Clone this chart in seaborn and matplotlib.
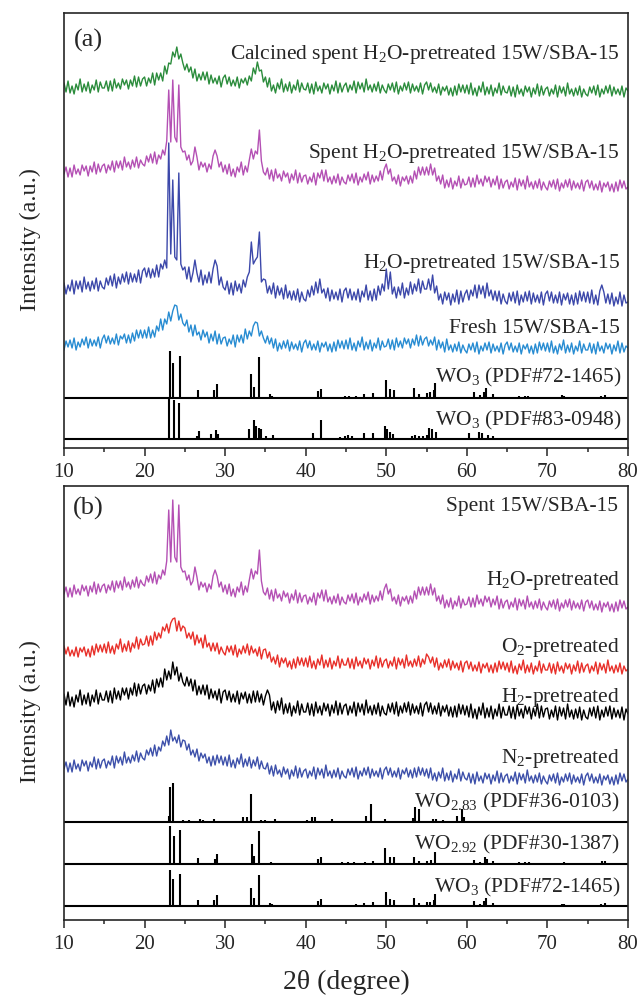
import numpy as np
import matplotlib
matplotlib.use("Agg")
import matplotlib.pyplot as plt
import seaborn as sns

# 2theta grid of the digitised patterns (0.25 deg steps, 10-80 deg)
two_theta = np.linspace(10, 80, 281)

# ---- panel (a) patterns, intensity in a.u. ----
calcined_spent = [
    10, 1, 12, 0, 7, -1, 9, 3, 14, 1, 9, 2, 11, 0, 8, 3, 13, 1, 11, 5,
    5, 12, 2, 12, 2, 14, 5, 10, 4, 14, 8, 13, 4, 13, 7, 17, 6, 16, 7, 14,
    16, 7, 15, 10, 20, 8, 20, 13, 20, 12, 27, 19, 30, 29, 41, 36, 46, 34, 39, 30,
    23, 29, 21, 26, 15, 24, 12, 19, 13, 21, 13, 21, 9, 18, 10, 15, 9, 17, 6, 15,
    18, 9, 16, 7, 13, 7, 16, 5, 14, 10, 15, 8, 17, 12, 25, 19, 31, 22, 23, 11,
    16, 6, 15, 2, 8, 0, 10, 4, 14, 1, 9, 2, 11, 0, 8, 3, 13, 1, 10, 4,
    3, 10, 0, 9, -1, 11, 2, 7, 0, 10, 4, 9, -1, 8, 2, 12, 0, 10, 1, 7,
    10, 1, 8, 3, 12, 0, 11, 4, 10, 1, 14, 3, 8, 1, 9, 2, 11, 0, 8, 3,
    0, 9, 3, 10, 1, 11, -1, 7, 2, 10, 3, 11, 0, 9, 2, 7, 1, 10, -1, 8,
    11, 3, 10, 1, 6, 0, 9, -2, 6, 2, 7, -2, 5, -3, 7, -2, 9, 1, 8, 0,
    8, -1, 10, -2, 5, -3, 7, 1, 11, -2, 6, -1, 8, -3, 5, 0, 10, -2, 7, 1,
    0, 7, -3, 6, -4, 8, -1, 4, -3, 7, 1, 6, -4, 5, -1, 9, -3, 7, -2, 4,
    6, -3, 4, -1, 8, -4, 7, 0, 6, -3, 10, -1, 4, -3, 5, -2, 7, -4, 4, -1,
    -3, 6, 0, 7, -2, 8, -4, 4, -1, 7, 0, 8, -3, 6, -1, 4, -2, 7, -4, 5,
    2,
]

spent_h2o = [
    13, 20, 10, 19, 10, 22, 13, 18, 12, 22, 16, 21, 11, 21, 15, 25, 13, 23, 15, 21,
    23, 14, 22, 17, 26, 15, 26, 19, 26, 17, 30, 20, 25, 18, 27, 20, 30, 19, 27, 23,
    21, 31, 25, 33, 24, 35, 23, 32, 28, 37, 32, 46, 97, 45, 107, 50, 45, 102, 40, 35,
    36, 27, 32, 22, 26, 40, 30, 17, 25, 20, 24, 15, 23, 18, 31, 37, 31, 20, 25, 15,
    22, 13, 23, 11, 18, 10, 20, 15, 25, 12, 21, 15, 27, 38, 28, 36, 33, 57, 26, 15,
    12, 19, 8, 17, 6, 18, 9, 13, 6, 16, 10, 14, 4, 13, 7, 17, 4, 14, 5, 11,
    12, 3, 10, 5, 14, 2, 14, 9, 17, 6, 17, 5, 10, 3, 11, 4, 13, 2, 10, 5,
    3, 12, 6, 13, 4, 14, 2, 10, 5, 13, 7, 15, 3, 12, 5, 11, 6, 16, 7, 18,
    23, 13, 18, 6, 10, 3, 12, 1, 10, 6, 11, 3, 11, 4, 16, 8, 20, 12, 20, 12,
    20, 12, 23, 12, 19, 6, 11, 3, 12, -1, 7, 0, 9, -2, 6, 1, 11, -1, 8, 2,
    3, 10, 0, 9, 0, 12, 3, 8, 1, 11, 5, 10, 0, 8, 2, 11, -2, 8, -1, 5,
    7, -2, 5, 0, 9, -3, 8, 1, 7, -2, 11, 0, 5, -2, 6, -1, 8, -3, 5, 0,
    -3, 6, 0, 7, -2, 8, -4, 4, -1, 7, 0, 8, -3, 6, -1, 4, -2, 7, -4, 5,
    7, -1, 6, -3, 3, -3, 6, -5, 4, 0, 5, -4, 3, -5, 5, -4, 7, -1, 6, -2,
    0,
]

h2o_pretreated = [
    19, 8, 17, 11, 22, 8, 21, 13, 21, 10, 25, 13, 20, 11, 21, 13, 24, 11, 21, 15,
    13, 24, 17, 26, 16, 28, 14, 25, 18, 28, 20, 30, 18, 29, 20, 28, 20, 32, 19, 31,
    34, 25, 34, 24, 33, 25, 37, 25, 38, 33, 42, 34, 159, 48, 122, 45, 42, 129, 38, 32,
    35, 23, 35, 20, 29, 42, 29, 20, 32, 17, 27, 19, 30, 19, 33, 42, 36, 17, 25, 15,
    12, 21, 8, 19, 7, 21, 11, 18, 9, 22, 15, 25, 30, 60, 38, 42, 45, 70, 20, 23,
    22, 9, 16, 8, 19, 4, 16, 7, 14, 3, 17, 4, 11, 2, 11, 2, 13, 0, 10, 3,
    1, 12, 5, 16, 7, 20, 9, 23, 9, 13, 4, 14, 1, 12, 3, 10, 2, 13, 0, 11,
    14, 4, 13, 2, 10, 2, 13, 0, 11, 5, 17, 2, 11, 1, 13, 2, 16, 7, 18, 11,
    33, 13, 30, 8, 15, 4, 15, 7, 19, 4, 14, 7, 20, 8, 18, 11, 23, 9, 21, 13,
    13, 23, 12, 27, 9, 16, 2, 8, -2, 10, 2, 9, -3, 8, 0, 12, -2, 11, 0, 8,
    12, 2, 12, 6, 17, 4, 17, 8, 16, 4, 19, 6, 12, 2, 11, 1, 11, -2, 8, 1,
    -2, 9, 1, 10, -1, 11, -3, 7, 0, 10, 1, 11, -2, 9, 0, 7, -1, 10, -3, 8,
    11, 1, 10, -1, 7, -1, 10, -3, 8, 2, 9, -2, 7, -3, 9, -2, 11, 1, 10, 0,
    10, -1, 12, -2, 7, -3, 11, 17, 10, -1, 8, -2, 9, -4, 5, -2, 10, -4, 7, -1,
    0,
]

fresh = [
    0, 9, 3, 10, 2, 12, 0, 8, 3, 11, 5, 13, 2, 11, 4, 10, 4, 13, 2, 11,
    15, 7, 14, 6, 12, 6, 16, 5, 14, 11, 16, 7, 15, 7, 17, 9, 20, 12, 20, 12,
    20, 12, 23, 12, 20, 13, 24, 19, 31, 20, 31, 26, 38, 29, 39, 45, 44, 30, 36, 27,
    24, 30, 18, 25, 14, 25, 15, 18, 10, 20, 13, 18, 7, 16, 9, 19, 6, 16, 6, 12,
    13, 4, 11, 6, 15, 3, 15, 8, 15, 7, 21, 11, 19, 14, 24, 28, 27, 14, 19, 12,
    7, 14, 6, 12, 2, 11, -1, 7, 1, 9, 2, 10, -1, 8, 1, 6, 0, 9, -2, 7,
    10, 2, 9, 0, 6, 0, 9, -2, 7, 3, 8, -1, 6, -2, 8, -1, 10, 2, 9, 1,
    10, 1, 12, 0, 7, -1, 9, 3, 13, 0, 8, 1, 10, -1, 7, 2, 12, 0, 9, 3,
    4, 11, 1, 10, 0, 12, 3, 9, 2, 12, 6, 11, 2, 11, 5, 15, 4, 14, 5, 11,
    13, 4, 10, 5, 13, 0, 10, 2, 8, -2, 11, 0, 5, -2, 6, -1, 8, -3, 5, 0,
    -3, 6, 0, 7, -2, 8, -4, 4, -1, 7, 0, 8, -3, 6, -1, 4, -2, 7, -4, 5,
    8, 0, 7, -2, 4, -2, 7, -4, 5, 1, 6, -3, 4, -4, 6, -3, 8, 0, 7, -1,
    7, -2, 9, -3, 4, -4, 6, 0, 10, -3, 5, -2, 7, -4, 4, -1, 9, -3, 6, 0,
    0, 7, -3, 6, -4, 8, -1, 4, -3, 7, 1, 6, -4, 5, -1, 9, -3, 7, -2, 4,
    2,
]

# ---- panel (b) patterns ----
o2_pretreated = [
    24, 16, 23, 14, 20, 14, 23, 13, 22, 18, 23, 14, 21, 13, 24, 15, 26, 18, 25, 18,
    26, 17, 28, 17, 24, 16, 26, 21, 31, 18, 26, 19, 29, 18, 27, 22, 33, 21, 31, 25,
    26, 34, 24, 34, 25, 38, 30, 37, 32, 43, 39, 46, 37, 47, 51, 52, 39, 49, 39, 44,
    42, 32, 37, 31, 38, 25, 35, 27, 32, 22, 35, 23, 27, 19, 27, 19, 27, 16, 23, 18,
    15, 24, 18, 24, 15, 25, 13, 21, 16, 24, 17, 26, 15, 24, 17, 21, 14, 23, 11, 20,
    21, 12, 18, 8, 13, 6, 15, 3, 12, 7, 12, 3, 9, 1, 11, 2, 13, 5, 12, 4,
    12, 3, 14, 2, 9, 1, 11, 5, 15, 2, 10, 3, 12, 1, 9, 4, 14, 2, 11, 5,
    5, 12, 2, 11, 1, 13, 4, 9, 2, 12, 6, 11, 1, 10, 4, 14, 2, 12, 3, 9,
    11, 2, 9, 4, 13, 1, 12, 5, 11, 2, 15, 4, 9, 3, 11, 4, 14, 3, 11, 6,
    16, 13, 7, 13, 3, 12, 0, 7, 2, 10, 3, 11, 0, 9, 2, 7, 0, 9, -2, 7,
    9, 1, 8, -1, 5, -1, 8, -3, 6, 2, 7, -2, 5, -3, 7, -2, 9, 1, 8, 0,
    7, -2, 9, -3, 4, -4, 6, 0, 10, -3, 5, -2, 7, -4, 4, -1, 9, -3, 6, 0,
    0, 7, -3, 6, -4, 8, -1, 4, -3, 7, 1, 6, -4, 5, -1, 9, -3, 7, -2, 4,
    6, -3, 4, -1, 8, -4, 7, 0, 6, -3, 10, -1, 4, -3, 5, -2, 7, -4, 4, -1,
    1,
]

h2_pretreated = [
    22, 11, 24, 10, 19, 9, 21, 14, 26, 11, 21, 12, 23, 10, 21, 14, 26, 12, 23, 16,
    16, 25, 14, 25, 13, 28, 17, 25, 16, 28, 21, 28, 17, 28, 21, 33, 20, 32, 22, 30,
    32, 22, 31, 25, 36, 23, 37, 29, 38, 29, 47, 36, 45, 37, 54, 41, 49, 35, 43, 34,
    30, 39, 30, 37, 25, 36, 21, 30, 22, 31, 21, 31, 17, 27, 18, 25, 16, 27, 13, 24,
    26, 16, 25, 14, 22, 14, 25, 12, 23, 17, 24, 13, 22, 13, 25, 14, 25, 14, 22, 11,
    20, 26, 21, 6, 14, 3, 15, 6, 18, 2, 12, 3, 13, 0, 10, 3, 15, 1, 12, 4,
    4, 13, 1, 12, 0, 14, 3, 10, 1, 13, 5, 12, 0, 11, 3, 15, 1, 13, 2, 10,
    12, 1, 10, 3, 14, 0, 13, 4, 12, 1, 16, 3, 10, 1, 11, 2, 13, 0, 10, 3,
    1, 12, 4, 13, 2, 14, 0, 10, 3, 13, 4, 14, 1, 12, 3, 10, 2, 13, 0, 11,
    14, 4, 13, 2, 10, 2, 13, 0, 10, 4, 11, 0, 9, -1, 10, -1, 12, 2, 11, 1,
    10, -1, 12, -2, 7, -3, 9, 1, 13, -2, 8, -1, 10, -3, 7, 0, 12, -2, 9, 1,
    1, 10, -2, 9, -3, 11, 0, 7, -2, 10, 2, 9, -3, 8, 0, 12, -2, 10, -1, 7,
    8, -3, 6, -1, 10, -4, 9, 0, 8, -3, 12, -1, 6, -3, 7, -2, 9, -4, 6, -1,
    -3, 8, 0, 9, -2, 10, -4, 6, -1, 9, 0, 10, -3, 8, -1, 6, -2, 9, -4, 7,
    2,
]

n2_pretreated = [
    11, 18, 8, 17, 8, 20, 11, 16, 9, 20, 14, 19, 9, 18, 13, 23, 11, 21, 12, 19,
    21, 12, 19, 15, 24, 12, 24, 17, 23, 15, 28, 17, 23, 17, 25, 19, 29, 18, 27, 22,
    20, 30, 25, 32, 24, 35, 24, 33, 29, 39, 34, 44, 35, 50, 39, 43, 37, 45, 33, 40,
    39, 30, 36, 25, 30, 23, 31, 19, 27, 22, 26, 17, 23, 14, 24, 15, 25, 17, 24, 15,
    23, 14, 25, 13, 20, 12, 22, 16, 26, 13, 21, 14, 23, 12, 20, 14, 23, 11, 19, 12,
    11, 17, 6, 14, 4, 15, 6, 10, 3, 13, 6, 11, 1, 10, 4, 14, 2, 12, 3, 9,
    11, 2, 9, 4, 13, 1, 12, 5, 11, 2, 15, 4, 9, 2, 10, 3, 12, 1, 9, 4,
    2, 11, 5, 12, 3, 13, 1, 9, 4, 12, 5, 13, 2, 11, 4, 9, 3, 12, 1, 10,
    13, 5, 12, 3, 9, 3, 12, 1, 10, 6, 12, 3, 10, 2, 12, 3, 13, 5, 12, 4,
    11, 2, 12, 0, 7, -1, 8, 2, 12, -1, 7, 0, 9, -2, 6, 1, 11, -1, 8, 2,
    0, 7, -3, 6, -4, 8, -1, 4, -3, 7, 1, 6, -4, 5, -1, 9, -3, 7, -2, 4,
    6, -3, 4, -1, 8, -4, 7, 0, 6, -3, 10, -1, 4, -3, 5, -2, 7, -4, 4, -1,
    -4, 5, -1, 6, -3, 7, -5, 3, -2, 6, -1, 7, -4, 5, -2, 3, -3, 6, -5, 4,
    7, -1, 6, -3, 3, -3, 6, -5, 4, 0, 5, -4, 3, -5, 5, -4, 7, -1, 6, -2,
    1,
]

# ---- reference cards: peak position (deg) and relative intensity (%) ----
wo3_72_1465_pos = [16.4, 20.6, 23.12, 23.59, 24.38, 26.60, 28.66, 28.94, 33.27, 33.58,
                   34.16, 35.58, 35.8, 41.50, 41.90, 44.9, 45.4, 46.2, 47.25, 48.3,
                   49.92, 50.5, 50.9, 53.5, 54.0, 55.0, 55.4, 55.9, 56.1, 60.9,
                   61.6, 62.1, 62.4, 63.3, 64.7, 66.5, 67.2, 67.6, 70.0, 71.8,
                   72.0, 73.7, 75.7, 76.7, 77.1, 78.5]
wo3_72_1465_int = [2, 2, 100, 74, 89, 17, 17, 30, 51, 23,
                   87, 8, 5, 15, 19, 4, 4, 5, 8, 10,
                   38, 19, 17, 21, 8, 11, 12, 17, 32, 13,
                   6, 13, 21, 8, 3, 4, 4, 4, 3, 6,
                   5, 3, 3, 5, 7, 2]

wo3_83_0948_pos = [23.08, 23.65, 24.3, 26.45, 26.75, 28.3, 28.85, 29.1, 33.0, 33.55,
                   33.85, 34.15, 34.5, 35.05, 35.95, 40.9, 41.9, 44.2, 44.9, 45.3,
                   45.7, 47.25, 48.3, 49.8, 50.05, 50.4, 50.85, 53.2, 53.6, 54.1,
                   54.5, 55.0, 55.35, 55.7, 56.2, 60.3, 61.55, 61.9, 62.6, 63.2]
wo3_83_0948_int = [100, 95, 87, 7, 20, 12, 22, 12, 24, 46,
                   32, 27, 24, 7, 10, 15, 46, 5, 7, 10,
                   7, 15, 15, 32, 24, 17, 12, 7, 9, 8,
                   7, 9, 27, 24, 17, 15, 17, 15, 10, 7]

wo283_pos = [10.3, 21.4, 23.0, 23.1, 23.5, 24.8, 25.5, 26.9, 27.2, 28.6,
             32.2, 32.7, 33.2, 34.5, 35.0, 36.2, 37.4, 40.1, 40.8, 41.1,
             43.3, 47.5, 48.1, 49.8, 53.3, 53.6, 54.0, 55.8, 56.2, 57.1,
             58.8, 59.4, 59.6]
wo283_int = [3, 3, 15, 90, 100, 5, 5, 8, 5, 8,
             12, 13, 72, 5, 5, 8, 3, 5, 12, 12,
             8, 15, 46, 8, 10, 38, 33, 8, 8, 5,
             15, 33, 12]

wo292_pos = [23.1, 23.6, 24.35, 26.6, 28.7, 28.95, 33.3, 33.6, 34.2, 35.7,
             41.5, 41.9, 44.5, 45.2, 46.0, 47.3, 48.3, 49.9, 50.4, 50.9,
             53.5, 54.0, 55.0, 55.5, 56.0, 60.9, 61.6, 62.2, 62.5, 63.3,
             66.5, 67.2, 67.7, 69.8, 72.0, 73.7, 75.5, 76.8, 77.1]
wo292_int = [100, 74, 89, 16, 13, 26, 53, 21, 87, 5,
             13, 18, 5, 5, 5, 5, 8, 42, 18, 18,
             18, 8, 8, 10, 32, 10, 5, 18, 13, 8,
             5, 5, 5, 3, 5, 3, 3, 8, 8]

C_GREEN = "#2b8c3c"
C_MAGENTA = "#b450b4"
C_BLUE = "#3c48aa"
C_LIGHT = "#288cd2"
C_RED = "#e8302a"
C_N2 = "#3d50aa"

sns.set_style("ticks")
plt.rcParams["font.family"] = ["Liberation Serif", "DejaVu Serif"]
plt.rcParams["mathtext.fontset"] = "custom"
plt.rcParams["mathtext.rm"] = "Liberation Serif"

fig = plt.figure(figsize=(6.41, 9.96), dpi=100)
ax_a = fig.add_axes([64 / 641, 1 - 448 / 996, 564 / 641, 435 / 996])
ax_b = fig.add_axes([64 / 641, 1 - 920 / 996, 564 / 641, 434 / 996])


def trace(ax, values, offset, color):
    sns.lineplot(x=two_theta, y=np.array(values) + offset, color=color,
                 lw=1.0, ax=ax, errorbar=None)


def sticks(ax, pos, rel, base, full):
    ax.vlines(pos, base, base + np.array(rel) / 100 * full, color="black", lw=1.5)


def label(ax, y, txt, x=79.0, size=15.5):
    ax.text(x, y, txt, ha="right", va="center", fontsize=size)


def frame(ax, height, tag, tag_y):
    ax.set_xlim(10, 80)
    ax.set_ylim(0, height)
    ax.set_xticks(range(10, 81, 10))
    ax.set_xticks(range(15, 80, 10), minor=True)
    ax.set_yticks([])
    ax.tick_params(axis="x", which="both", direction="out", top=False,
                   labelsize=15, pad=5.5)
    ax.tick_params(axis="x", which="major", length=5.5, width=1.1)
    ax.tick_params(axis="x", which="minor", length=3, width=1.1)
    for s in ax.spines.values():
        s.set_linewidth(1.2)
        s.set_visible(True)
    ax.set_ylabel("Intensity (a.u.)", fontsize=17.5)
    ax.yaxis.set_label_coords(-23 / 564, 0.48)
    ax.set_xlabel("")
    ax.text(12.98, tag_y, tag, ha="center", va="center", fontsize=19)


# panel (a)
trace(ax_a, calcined_spent, 355, C_GREEN)
trace(ax_a, spent_h2o, 261, C_MAGENTA)
trace(ax_a, h2o_pretreated, 146, C_BLUE)
trace(ax_a, fresh, 98, C_LIGHT)
sticks(ax_a, wo3_72_1465_pos, wo3_72_1465_int, 50, 47)
sticks(ax_a, wo3_83_0948_pos, wo3_83_0948_int, 9, 41)
for yy in (50, 9):
    ax_a.axhline(yy, color="black", lw=1.5)
frame(ax_a, 435, "(a)", 408)
sub = r"$_{\mathregular{2}}$"
label(ax_a, 394, "Calcined spent H" + sub + "O-pretreated 15W/SBA-15")
label(ax_a, 295, "Spent H" + sub + "O-pretreated 15W/SBA-15")
label(ax_a, 185, "H" + sub + "O-pretreated 15W/SBA-15")
label(ax_a, 120, "Fresh 15W/SBA-15")
label(ax_a, 71, r"WO$_{\mathregular{3}}$ (PDF#72-1465)", x=79.2)
label(ax_a, 28, r"WO$_{\mathregular{3}}$ (PDF#83-0948)", x=79.2)

# panel (b)
trace(ax_b, spent_h2o, 313, C_MAGENTA)
trace(ax_b, o2_pretreated, 250, C_RED)
trace(ax_b, h2_pretreated, 204, "black")
trace(ax_b, n2_pretreated, 140, C_N2)
sticks(ax_b, wo283_pos, wo283_int, 98, 39)
sticks(ax_b, wo292_pos, wo292_int, 56, 38)
sticks(ax_b, wo3_72_1465_pos, wo3_72_1465_int, 14, 36)
for yy in (98, 56, 14):
    ax_b.axhline(yy, color="black", lw=1.5)
frame(ax_b, 434, "(b)", 412)
label(ax_b, 413, "Spent 15W/SBA-15", x=78.75)
label(ax_b, 340, "H" + sub + "O-pretreated")
label(ax_b, 273, "O" + sub + "-pretreated")
label(ax_b, 223, "H" + sub + "-pretreated")
label(ax_b, 162, "N" + sub + "-pretreated")
label(ax_b, 118, r"WO$_{\mathregular{2.83}}$ (PDF#36-0103)")
label(ax_b, 76, r"WO$_{\mathregular{2.92}}$ (PDF#30-1387)")
label(ax_b, 33, r"WO$_{\mathregular{3}}$ (PDF#72-1465)")
ax_b.set_xlabel("2θ (degree)", fontsize=20)
ax_b.xaxis.set_label_coords(0.5, -0.114)

fig.savefig("out.png", dpi=100)
